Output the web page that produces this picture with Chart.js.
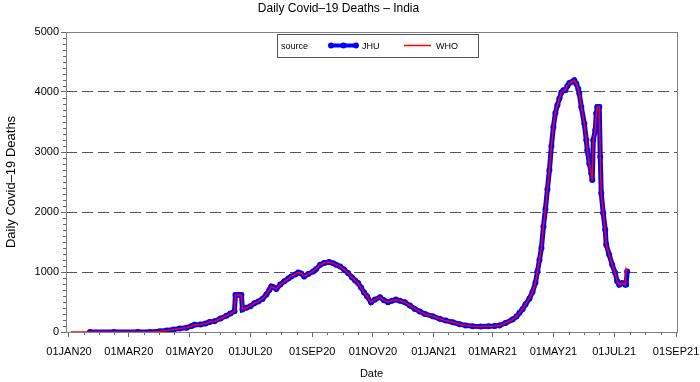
<!DOCTYPE html>
<html><head><meta charset="utf-8">
<script src="https://cdn.jsdelivr.net/npm/chart.js@4.4.1/dist/chart.umd.min.js"></script>
<style>html,body{margin:0;padding:0;background:#fff;}canvas{display:block;}</style>
</head><body>
<canvas id="c" width="700" height="382"></canvas>
<script>
const dates = [
'2020-01-03','2020-01-22','2020-02-15','2020-03-10','2020-03-22','2020-04-01','2020-04-08','2020-04-15','2020-04-21','2020-04-28',
'2020-05-03','2020-05-06','2020-05-12','2020-05-17','2020-05-21','2020-05-26','2020-06-01','2020-06-07','2020-06-11','2020-06-15',
'2020-06-16','2020-06-19','2020-06-22','2020-06-23','2020-06-27','2020-07-01','2020-07-05','2020-07-09','2020-07-13','2020-07-17',
'2020-07-20','2020-07-22','2020-07-24','2020-07-27','2020-07-31','2020-08-04','2020-08-08','2020-08-11','2020-08-15','2020-08-18',
'2020-08-21','2020-08-24','2020-08-28','2020-09-02','2020-09-05','2020-09-09','2020-09-13','2020-09-18','2020-09-22','2020-09-25',
'2020-09-29','2020-10-03','2020-10-07','2020-10-11','2020-10-14','2020-10-17','2020-10-20','2020-10-23','2020-10-26','2020-10-30',
'2020-11-03','2020-11-08','2020-11-12','2020-11-16','2020-11-20','2020-11-24','2020-11-28','2020-12-03','2020-12-08','2020-12-13',
'2020-12-18','2020-12-23','2020-12-31','2021-01-07','2021-01-13','2021-01-20','2021-01-27','2021-02-02','2021-02-09','2021-02-17',
'2021-02-25','2021-03-03','2021-03-08','2021-03-14','2021-03-21','2021-03-25','2021-03-28','2021-03-31','2021-04-03','2021-04-07',
'2021-04-10','2021-04-13','2021-04-15','2021-04-17','2021-04-19','2021-04-21','2021-04-23','2021-04-25','2021-04-27','2021-04-29',
'2021-05-01','2021-05-03','2021-05-05','2021-05-07','2021-05-09','2021-05-11','2021-05-13','2021-05-15','2021-05-17','2021-05-20',
'2021-05-22','2021-05-24','2021-05-26','2021-05-27','2021-05-29','2021-06-01','2021-06-03','2021-06-04','2021-06-06','2021-06-08',
'2021-06-09','2021-06-10','2021-06-12','2021-06-13','2021-06-14','2021-06-16','2021-06-17','2021-06-18','2021-06-20','2021-06-22',
'2021-06-23','2021-06-26','2021-06-29','2021-07-02','2021-07-04','2021-07-06','2021-07-09','2021-07-12','2021-07-13','2021-07-14'
];
const jhuDeaths = [
null,0,0,0,1,12,25,40,60,72,
100,120,125,140,165,180,225,270,310,345,
615,620,615,375,405,430,480,510,550,623,
700,760,745,717,790,844,890,927,960,993,
975,927,965,1010,1050,1121,1150,1165,1145,1120,
1093,1040,983,910,860,817,740,660,595,495,
540,578,530,495,520,540,520,495,440,385,
340,300,262,220,190,163,130,110,96,92,
96,100,110,150,208,260,319,380,460,560,
665,820,1010,1200,1400,1757,2050,2380,2699,3100,
3418,3650,3780,3890,3990,4030,4028,4100,4150,4170,
4194,4139,4050,3973,3750,3474,3198,3031,2810,2644,
2533,3198,3364,3641,3750,3750,2920,2312,1980,1703,
1453,1287,1121,983,844,789,817,789,790,1010
];
const whoDeaths = [
0,0,0,0,1,12,25,40,60,72,
100,120,125,140,165,180,225,270,310,345,
615,620,615,375,405,430,480,510,550,623,
700,760,745,717,790,844,890,927,960,993,
975,927,965,1010,1050,1121,1150,1165,1145,1120,
1093,1040,983,910,860,817,740,660,595,495,
540,578,530,495,520,540,520,495,440,385,
340,300,262,220,190,163,130,110,96,92,
96,100,110,150,208,260,319,380,460,560,
665,820,1010,1200,1400,1757,2050,2380,2699,3100,
3418,3650,3780,3890,3990,4030,4028,4100,4150,4170,
4194,4139,4050,3973,3750,3474,3198,3031,2810,2644,
2533,3198,3364,3641,3750,3750,2920,2312,1980,1703,
1453,1287,1121,983,844,789,817,789,1050,1010
];
const xTickDates = ['2020-01-01','2020-03-01','2020-05-01','2020-07-01','2020-09-01','2020-11-01','2021-01-01','2021-03-01','2021-05-01','2021-07-01','2021-09-01'];
const xTickLabels = ['01JAN20','01MAR20','01MAY20','01JUL20','01SEP20','01NOV20','01JAN21','01MAR21','01MAY21','01JUL21','01SEP21'];
const yTickValues = [0,1000,2000,3000,4000,5000];
const yTickLabels = ['0','1000','2000','3000','4000','5000'];

function dayNum(s){const p=s.split('-').map(Number);return (Date.UTC(p[0],p[1]-1,p[2])-Date.UTC(2020,0,1))/86400000;}
const xDays = dates.map(dayNum);
const xTickDays = xTickDates.map(dayNum);
const FONT = 'Liberation Sans, Arial, sans-serif';

const framePlugin = {
  id:'frame',
  afterDatasetsDraw(chart){
    const {ctx, chartArea:a, scales} = chart;
    ctx.save();
    ctx.strokeStyle = '#666'; ctx.lineWidth = 1;
    ctx.beginPath();
    for(let i=0;i<xTickDays.length-1;i++){
      for(let k=1;k<4;k++){
        const v = xTickDays[i] + (xTickDays[i+1]-xTickDays[i])*k/4;
        const px = Math.round(scales.x.getPixelForValue(v))+0.5;
        ctx.moveTo(px, a.bottom); ctx.lineTo(px, a.bottom+3);
      }
    }
    for(let v=100; v<5000; v+=100){
      if(v%1000===0) continue;
      const py = Math.round(scales.y.getPixelForValue(v))+0.5;
      ctx.moveTo(a.left-3, py); ctx.lineTo(a.left, py);
    }
    ctx.stroke();
    ctx.strokeStyle = '#808080';
    ctx.strokeRect(Math.round(a.left)+0.5, Math.round(a.top)+0.5, Math.round(a.right-a.left), Math.round(a.bottom-a.top));
    const lx=277, ly=34, lw=201, lh=23, cy=ly+lh/2+1;
    ctx.fillStyle='#fff'; ctx.fillRect(lx,ly,lw,lh);
    ctx.strokeStyle='#555'; ctx.strokeRect(lx+0.5,ly+0.5,lw,lh);
    ctx.fillStyle='#000'; ctx.font='9px '+FONT; ctx.textBaseline='middle'; ctx.textAlign='left';
    ctx.fillText('source', 281, cy);
    ctx.strokeStyle='#0000ff'; ctx.lineWidth=4; ctx.beginPath(); ctx.moveTo(331,cy-1); ctx.lineTo(356,cy-1); ctx.stroke();
    ctx.fillStyle='#0000ff';
    [331,343.5,356].forEach(x=>{ctx.beginPath();ctx.arc(x,cy-1,3,0,Math.PI*2);ctx.fill();});
    ctx.fillStyle='#000'; ctx.fillText('JHU', 362, cy);
    ctx.strokeStyle='#ff0000'; ctx.lineWidth=1.5; ctx.beginPath(); ctx.moveTo(404,cy-1); ctx.lineTo(431,cy-1); ctx.stroke();
    ctx.fillStyle='#000'; ctx.fillText('WHO', 436, cy);
    ctx.restore();
  }
};

new Chart(document.getElementById('c'), {
  type:'line',
  data:{
    datasets:[
      {label:'WHO', data:xDays.map((d,i)=>({x:d,y:whoDeaths[i]})), borderColor:'#ff0000', borderWidth:1.5, pointRadius:0, tension:0, order:0},
      {label:'JHU', data:xDays.map((d,i)=>({x:d,y:jhuDeaths[i]})), borderColor:'#0000ff', backgroundColor:'#0000ff', borderWidth:5, pointRadius:3, pointBorderWidth:0, pointBackgroundColor:'#0000ff', tension:0, order:1}
    ]
  },
  plugins:[framePlugin],
  options:{
    responsive:false, animation:false, devicePixelRatio:1,
    layout:{padding:{left:0,right:23,top:0,bottom:0}},
    plugins:{
      legend:{display:false}, tooltip:{enabled:false},
      title:{display:true, text:'Daily Covid–19 Deaths – India', color:'#000', font:{family:FONT,size:12,weight:'normal'}, padding:{top:1,bottom:16.6}}
    },
    scales:{
      x:{
        type:'linear', min:-3, max:610,
        afterBuildTicks(s){ s.ticks = xTickDays.map(v=>({value:v})); },
        afterFit(s){ s.height = 50; s.paddingLeft = 0; s.paddingRight = 0; },
        ticks:{autoSkip:false, maxRotation:0, color:'#000', font:{family:FONT,size:11}, padding:8,
          callback(v){ const i = xTickDays.indexOf(v); return i>=0 ? xTickLabels[i] : ''; }},
        grid:{drawOnChartArea:false, drawTicks:true, tickLength:5, tickColor:'#666'},
        border:{display:false},
        title:{display:true, text:'Date', color:'#000', font:{family:FONT,size:11}, padding:{top:0,bottom:1.5}}
      },
      y:{
        min:0, max:5000,
        afterBuildTicks(s){ s.ticks = yTickValues.map(v=>({value:v})); },
        afterFit(s){ s.width = 66; s.paddingTop = 0; s.paddingBottom = 0; },
        ticks:{color:'#000', font:{family:FONT,size:11}, padding:2,
          callback(v){ const i = yTickValues.indexOf(v); return i>=0 ? yTickLabels[i] : ''; }},
        grid:{color:(c)=> (c.tick && (c.tick.value===0||c.tick.value===5000)) ? 'rgba(0,0,0,0)' : '#555',
              tickBorderDash:[], tickColor:'#666', tickLength:5, lineWidth:1},
        border:{display:false, dash:[11,5]},
        title:{display:true, text:'Daily Covid–19 Deaths', color:'#000', font:{family:FONT,size:13}, padding:{top:4,bottom:0}}
      }
    }
  }
});
</script>
</body></html>
